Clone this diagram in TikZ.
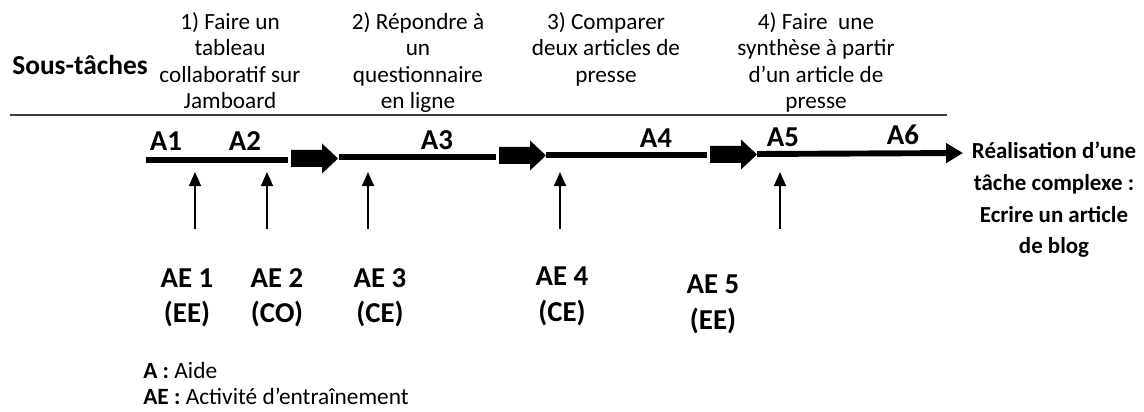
\documentclass[tikz,border=0pt]{standalone}
\usepackage{fontspec}
\setmainfont{Carlito}
\usetikzlibrary{arrows.meta,positioning}
% fat arrow between two sub-tasks: #1 = tail point
\newcommand{\bigarrow}[1]{%
  \fill #1 ++(0,-8.5) -- ++(31,0) -- ++(0,-6.5) -- ++(16,15) -- ++(-16,15) -- ++(0,-6.5) -- ++(-31,0) -- cycle;}

\begin{document}
\begin{tikzpicture}[x=0.025cm,y=-0.025cm,>={Triangle[length=10pt,width=8.5pt]}]
  \tikzstyle{subtask}=[align=center,inner sep=0pt,anchor=north,font=\fontsize{16.5}{18.8}\selectfont]
  \tikzstyle{aidelbl}=[inner sep=0pt,anchor=base,font=\bfseries\fontsize{20.5}{20.5}\selectfont]
  \tikzstyle{activity}=[align=center,inner sep=0pt,anchor=north,font=\bfseries\fontsize{20.5}{25}\selectfont]
  \tikzstyle{legend}=[inner sep=0pt,anchor=base west,font=\fontsize{16.6}{16.6}\selectfont]
  \tikzstyle{timeline}=[line width=4.2pt]
  \tikzstyle{support}=[->,line width=1.4pt]
  \useasboundingbox (0,0) rectangle (1144,412);

  % Sub-tasks above the rule.
  \node [anchor=base west,inner sep=0pt,font=\bfseries\fontsize{19.5}{19.5}\selectfont] (sous) at (12,75) {Sous-tâches};
  \node [subtask] (st1) at (230,12) {1) Faire un\\tableau\\collaboratif sur\\Jamboard};
  \node [subtask] (st2) at (418,12) {2) Répondre à\\un\\questionnaire\\en ligne};
  \node [subtask] (st3) at (606,12) {3) Comparer\\deux articles de\\presse};
  \node [subtask] (st4) at (816,12) {4) Faire~ une\\synthèse à partir\\d’un article de\\presse};
  \coordinate (ruleW) at (10,115);
  \coordinate (ruleE) at (947,115);
  \draw [line width=1.5pt,black!75] (ruleW) -- (ruleE);

  % Time line.
  \coordinate (t0) at (146,160);
  \coordinate (t1) at (288,160);
  \coordinate (h1) at (291,158.5);
  \coordinate (t2) at (339,157);
  \coordinate (t3) at (496,157);
  \coordinate (h2) at (499,155.5);
  \coordinate (t4) at (546,155);
  \coordinate (t5) at (707,155);
  \coordinate (h3) at (710,154.5);
  \coordinate (t6) at (757,154);
  \coordinate (t7) at (963,153);
  \draw [timeline] (t0) -- (t1);
  \bigarrow{(h1)}
  \draw [timeline] (t2) -- (t3);
  \bigarrow{(h2)}
  \draw [timeline] (t4) -- (t5);
  \bigarrow{(h3)}
  \draw [timeline,-{Triangle[length=12pt,width=13.5pt]}] (t6) -- (t7);

  % Aides.
  \node [aidelbl] (a1) at (166,151) {A1};
  \node [aidelbl] (a2) at (245,151) {A2};
  \node [aidelbl] (a3) at (437,150) {A3};
  \node [aidelbl] (a4) at (656,148) {A4};
  \node [aidelbl] (a5) at (783,147) {A5};
  \node [aidelbl] (a6) at (903,145) {A6};

  \node [align=center,inner sep=0pt,anchor=north,font=\bfseries\fontsize{16.3}{22.5}\selectfont] (goal) at (1054,142)
    {Réalisation d’une\\tâche complexe :\\Ecrire un article\\de blog};

  % Activités d'entraînement.
  \foreach \x [count=\i] in {195,267,368,560,780} {
    \coordinate (foot\i) at (\x,229);
    \coordinate (tip\i) at (\x,172);
    \draw [support] (foot\i) -- (tip\i);
  }
  \node [activity] (ae1) at (187,268) {AE 1\\(EE)};
  \node [activity] (ae2) at (277,268) {AE 2\\(CO)};
  \node [activity] (ae3) at (380,268) {AE 3\\(CE)};
  \node [activity] (ae4) at (562,267) {AE 4\\(CE)};
  \node [activity] (ae5) at (713,275) {AE 5\\(EE)};

  \node [legend] (leg1) at (143,378) {\textbf{A :} Aide};
  \node [legend] (leg2) at (143,404) {\textbf{AE :} Activité d’entraînement};
\end{tikzpicture}
\end{document}
